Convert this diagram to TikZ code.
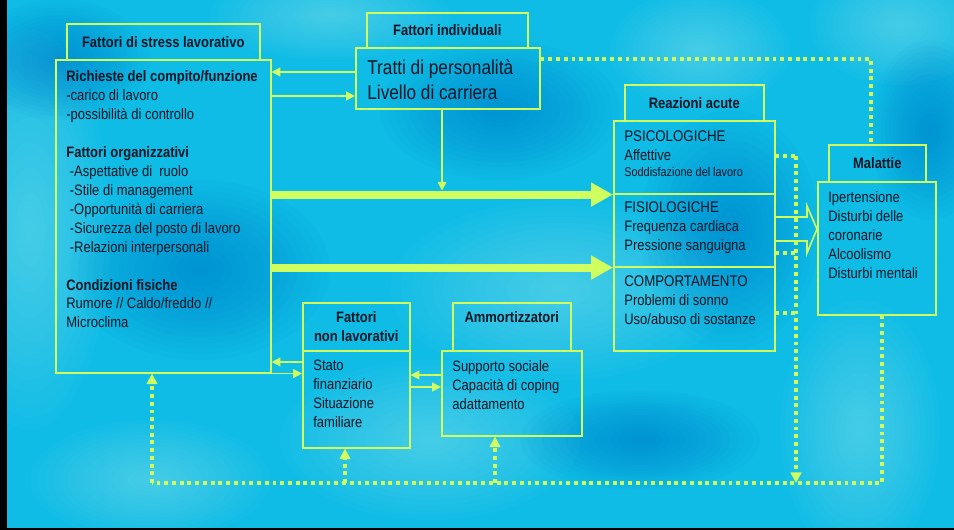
\documentclass[tikz,border=0pt]{standalone}
\usepackage{fontspec}
\setmainfont{Liberation Sans}[FakeStretch=0.86]
\usetikzlibrary{arrows.meta,calc}

\definecolor{verdelime}{RGB}{208,255,96}
\definecolor{acqua}{RGB}{14,188,230}
\definecolor{acquachiara}{RGB}{130,232,252}
\definecolor{acquascura}{RGB}{0,120,200}
\definecolor{inchiostro}{RGB}{12,22,36}

\newlength{\pxu}\setlength{\pxu}{0.02cm}

\tikzstyle{box} = [draw=verdelime, line width=0.9pt, rectangle, inner sep=0pt, anchor=north west]
\tikzstyle{titolo} = [box, font=\fontsize{8.6}{10.8}\selectfont\bfseries, align=center, text=inchiostro]
\tikzstyle{testo} = [anchor=north west, inner sep=0pt, align=left, text=inchiostro, font=\fontsize{8.6}{10.8}\selectfont]
\tikzstyle{freccia} = [draw=verdelime, line width=0.9pt, -{Triangle[length=5pt,width=5pt]}]
\tikzstyle{grossa} = [draw=verdelime, line width=4.5pt, -{Triangle[length=12.5pt,width=13pt]}]
\tikzstyle{puntini} = [draw=verdelime, line width=2.2pt, dash pattern=on 2.2pt off 2.2pt]
\tikzstyle{punta} = [-{Triangle[length=6pt,width=6pt,fill=verdelime]}]

\begin{document}
\begin{tikzpicture}[x=0.02cm, y=-0.02cm]
	\useasboundingbox (0,0) rectangle (954,530);

	% sfondo
	\fill[acqua] (0,0) rectangle (954,530);
	\begin{scope}
		\clip (0,0) rectangle (954,530);
		\foreach \cx/\cy/\rx/\ry/\col in {30/230/1.6/4/acquachiara, 330/15/2.4/0.9/acquachiara,
				560/290/3.4/1.8/acquachiara, 430/440/3/1.6/acquachiara, 900/25/1.8/1.2/acquachiara,
				150/480/2.4/1.2/acquachiara, 860/430/1.6/2.6/acquachiara, 700/50/1.8/1.2/acquachiara,
				200/270/2.6/1.8/acquascura, 500/110/2.4/1.4/acquascura, 730/230/1.8/2.4/acquascura,
				930/130/1.2/1.8/acquascura, 640/440/2.4/1/acquascura, 60/60/1.8/1.2/acquascura}
			\foreach \k in {1,...,16}
				\fill[\col, opacity=0.045] (\cx,\cy) ellipse ({\rx*\k/16*1cm} and {\ry*\k/16*1cm});
	\end{scope}
	\fill[black] (0,0) rectangle (7,530);
	\fill[black] (0,528) rectangle (954,530);

	% fattori di stress lavorativo
	\node[box, minimum width=215\pxu, minimum height=313\pxu] (stress) at (55,59) {};
	\node[titolo, minimum width=193\pxu, minimum height=36\pxu] (hStress) at (66,23) {Fattori di stress lavorativo};
	\node[testo] (stressTesto) at ([shift={(11,11)}]stress.north west) {%
		\textbf{Richieste del compito/funzione}\\
		-carico di lavoro\\
		-possibilità di controllo\\[10.8pt]
		\textbf{Fattori organizzativi}\\
		\hspace{2pt}-Aspettative di \ ruolo\\
		\hspace{2pt}-Stile di management\\
		\hspace{2pt}-Opportunità di carriera\\
		\hspace{2pt}-Sicurezza del posto di lavoro\\
		\hspace{2pt}-Relazioni interpersonali\\[10.8pt]
		\textbf{Condizioni fisiche}\\
		Rumore // Caldo/freddo //\\
		Microclima};

	% fattori individuali
	\node[box, minimum width=184\pxu, minimum height=61\pxu] (indiv) at (355,47) {};
	\node[titolo, minimum width=161\pxu, minimum height=35\pxu] (hIndiv) at (366,12) {Fattori individuali};
	\node[testo, font=\fontsize{11.4}{14.7}\selectfont] (indivTesto) at ([shift={(12,12)}]indiv.north west) {%
		Tratti di personalità\\
		Livello di carriera};

	% reazioni acute
	\node[box, minimum width=161\pxu, minimum height=73\pxu] (psico) at (613,120) {};
	\node[box, minimum width=161\pxu, minimum height=73\pxu] (fisio) at (613,193) {};
	\node[box, minimum width=161\pxu, minimum height=84\pxu] (comport) at (613,266) {};
	\node[titolo, minimum width=139\pxu, minimum height=36\pxu] (hReaz) at (624,84) {Reazioni acute};
	\node[testo] (psicoTesto) at ([shift={(11,10)}]psico.north west) {%
		{\fontsize{8.8}{10.8}\selectfont PSICOLOGICHE}\\
		Affettive\\[-1.7pt]
		{\fontsize{7.2}{10.8}\selectfont Soddisfazione del lavoro}};
	\node[testo] (fisioTesto) at ([shift={(11,8)}]fisio.north west) {%
		{\fontsize{8.8}{10.8}\selectfont FISIOLOGICHE}\\
		Frequenza cardiaca\\
		Pressione sanguigna};
	\node[testo] (comportTesto) at ([shift={(11,9)}]comport.north west) {%
		{\fontsize{8.8}{10.8}\selectfont COMPORTAMENTO}\\
		Problemi di sonno\\
		Uso/abuso di sostanze};

	% malattie
	\node[box, minimum width=118\pxu, minimum height=133\pxu] (malattie) at (817,181) {};
	\node[titolo, minimum width=97\pxu, minimum height=37\pxu] (hMal) at (828,144) {Malattie};
	\node[testo] (malattieTesto) at ([shift={(11,10)}]malattie.north west) {%
		Ipertensione\\
		Disturbi delle\\
		coronarie\\
		Alcoolismo\\
		Disturbi mentali};

	% fattori non lavorativi
	\node[box, minimum width=107\pxu, minimum height=97\pxu] (nonlav) at (302,350) {};
	\node[titolo, minimum width=107\pxu, minimum height=48\pxu] (hNonlav) at (302,302) {Fattori\\non lavorativi};
	\node[testo] (nonlavTesto) at ([shift={(11,10)}]nonlav.north west) {%
		Stato\\
		finanziario\\
		Situazione\\
		familiare};

	% ammortizzatori
	\node[box, minimum width=140\pxu, minimum height=85\pxu] (amm) at (441,350) {};
	\node[titolo, minimum width=118\pxu, minimum height=48\pxu] (hAmm) at (452,302) {Ammortizzatori\\\mbox{}};
	\node[testo] (ammTesto) at ([shift={(11,10)}]amm.north west) {%
		Supporto sociale\\
		Capacità di coping\\
		adattamento};

	% frecce sottili
	\draw[freccia] (indiv.west |- 0,72) -- (stress.east |- 0,72);
	\draw[freccia] (stress.east |- 0,96) -- (indiv.west |- 0,96);
	\draw[freccia, shorten >=2.3pt] (indiv.south -| 442,0) -- (442,0 |- psico.south west);
	\draw[freccia] (nonlav.west |- 0,362) -- (stress.east |- 0,362);
	\draw[freccia] (stress.south east) -- (nonlav.west |- stress.south east);
	\draw[freccia] (amm.west |- 0,375) -- (nonlav.east |- 0,375);
	\draw[freccia] (nonlav.east |- 0,387) -- (amm.west |- 0,387);

	% frecce grosse
	\draw[grossa] (stress.east |- psico.south west) -- (psico.south west);
	\draw[grossa] (stress.east |- fisio.south west) -- (fisio.south west);

	% freccia vuota verso malattie
	\draw[verdelime, line width=0.9pt] (fisio.east |- 0,217) -- (807,217) -- (807,206)
		-- (malattie.west |- 0,229) -- (807,253) -- (807,241) -- (fisio.east |- 0,241);

	% retroazioni a puntini
	\coordinate (angoloSx) at (152,483);
	\coordinate (angoloDx) at (882,483);
	\draw[puntini] (indiv.east |- 0,59) -| (871,0 |- hMal.north);
	\draw[puntini] (psico.east |- 0,156) -- (796,156);
	\draw[puntini] (fisio.east |- 0,253) -- (796,253);
	\draw[puntini] (comport.east |- 0,313) -- (796,313);
	\draw[puntini, punta] (796,156) -- (796,0 |- angoloDx);
	\draw[puntini] (882,0 |- malattie.south) -- (angoloDx) -- (angoloSx);
	\draw[puntini, punta] (angoloSx) -- (angoloSx |- stress.south);
	\draw[puntini, punta] (345,0 |- angoloSx) -- (345,0 |- nonlav.south);
	\draw[puntini, punta] (495,0 |- angoloSx) -- (495,0 |- amm.south);
\end{tikzpicture}
\end{document}
